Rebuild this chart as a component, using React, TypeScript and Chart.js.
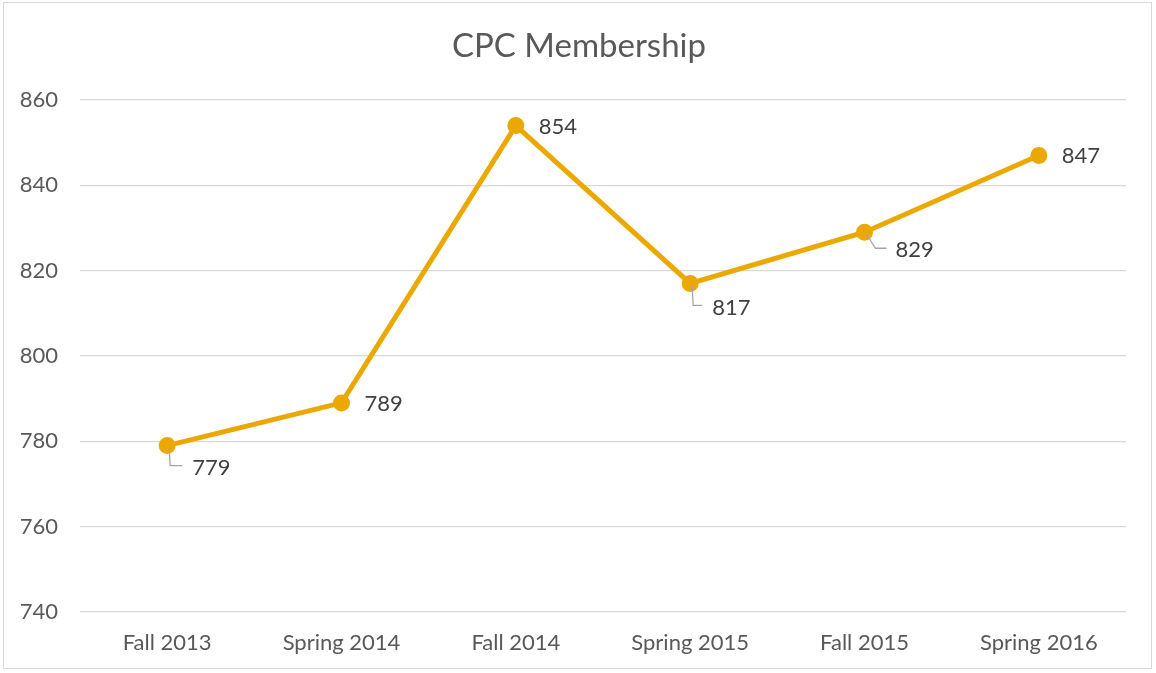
import React, { useEffect, useRef } from "react";
import { Chart, registerables } from "chart.js";

Chart.register(...registerables);

const categories = ["Fall 2013", "Spring 2014", "Fall 2014", "Spring 2015", "Fall 2015", "Spring 2016"];
const membership = [779, 789, 854, 817, 829, 847];
const yTicks = [740, 760, 780, 800, 820, 840, 860];
const chartTitle = "CPC Membership";

// label placement styles (relative offsets from each point)
const labelStyle = [
  { dx: 25, dy: 22, leader: "down" },
  { dx: 23, dy: 1, leader: "none" },
  { dx: 23, dy: 1, leader: "none" },
  { dx: 22, dy: 24, leader: "down" },
  { dx: 14, dy: 18, leader: "diag" },
  { dx: 23, dy: 0, leader: "none" },
];

const TEXT = "#595959";
const FONT = "Lato, 'Open Sans', sans-serif";

const labelPlugin = {
  id: "pointLabels",
  afterDatasetsDraw(chart: any) {
    const ctx = chart.ctx;
    const meta = chart.getDatasetMeta(0);
    ctx.save();
    // title
    ctx.font = `33px ${FONT}`;
    ctx.fillStyle = TEXT;
    ctx.textAlign = "center";
    ctx.textBaseline = "middle";
    ctx.fillText(chartTitle, chart.width / 2 + 1, 46);

    ctx.font = `22px ${FONT}`;
    ctx.fillStyle = "#404040";
    ctx.textBaseline = "middle";
    ctx.textAlign = "left";
    meta.data.forEach((pt: any, i: number) => {
      const s = labelStyle[i];
      const lx = pt.x + s.dx;
      const ly = pt.y + s.dy;
      if (s.leader !== "none") {
        ctx.beginPath();
        ctx.strokeStyle = "#a6a6a6";
        ctx.lineWidth = 1.3;
        if (s.leader === "down") {
          ctx.moveTo(pt.x + 2, pt.y + 2);
          ctx.lineTo(pt.x + 3, ly - 2);
          ctx.lineTo(lx - 10, ly - 2);
        } else {
          ctx.moveTo(pt.x + 2, pt.y + 2);
          ctx.lineTo(pt.x + 11, ly - 2);
          ctx.lineTo(lx + 8, ly - 2);
        }
        ctx.stroke();
        ctx.fillText(String(membership[i]), s.leader === "diag" ? lx + 17 : lx, ly);
      } else {
        ctx.fillText(String(membership[i]), lx, ly);
      }
    });
    ctx.restore();
  },
};

export default function App() {
  const ref = useRef<HTMLCanvasElement | null>(null);
  useEffect(() => {
    document.body.style.margin = "0";
    const chart = new Chart(ref.current as HTMLCanvasElement, {
      type: "line",
      data: {
        labels: categories,
        datasets: [
          {
            data: membership,
            borderColor: "#EBA800",
            backgroundColor: "#EBA800",
            borderWidth: 5,
            pointRadius: 6,
            pointHoverRadius: 6,
            pointBackgroundColor: "#EBA800",
            pointBorderColor: "#EBA800",
            tension: 0,
          },
        ],
      },
      options: {
        animation: false,
        responsive: false,
        layout: { padding: { left: 0, right: 30, top: 100, bottom: 0 } },
        plugins: {
          legend: { display: false },
          tooltip: { enabled: false },
          title: { display: false },
        },
        scales: {
          x: {
            offset: true,
            grid: { display: false, drawTicks: false },
            border: { display: false },
            ticks: { color: TEXT, font: { family: FONT, size: 22 }, padding: 18 },
            afterFit: (s: any) => { s.height = 61; },
          },
          y: {
            min: 740,
            max: 860,
            afterBuildTicks: (s: any) => { s.ticks = yTicks.map((v) => ({ value: v })); },
            grid: { color: "#d9d9d9", lineWidth: 1.3, drawTicks: false },
            border: { display: false },
            ticks: { color: TEXT, font: { family: FONT, size: 22 }, padding: 22 },
            afterFit: (s: any) => { s.width = 80; },
          },
        },
      },
      plugins: [labelPlugin],
    });
    return () => chart.destroy();
  }, []);
  return (
    <div style={{ position: "relative", width: 1156, height: 673 }}>
      <div
        style={{
          position: "absolute",
          left: 3,
          top: 2,
          width: 1149,
          height: 667,
          border: "1px solid #d9d9d9",
          boxSizing: "border-box",
        }}
      />
      <canvas ref={ref} width={1156} height={673} style={{ position: "absolute", left: 0, top: 0 }} />
    </div>
  );
}
